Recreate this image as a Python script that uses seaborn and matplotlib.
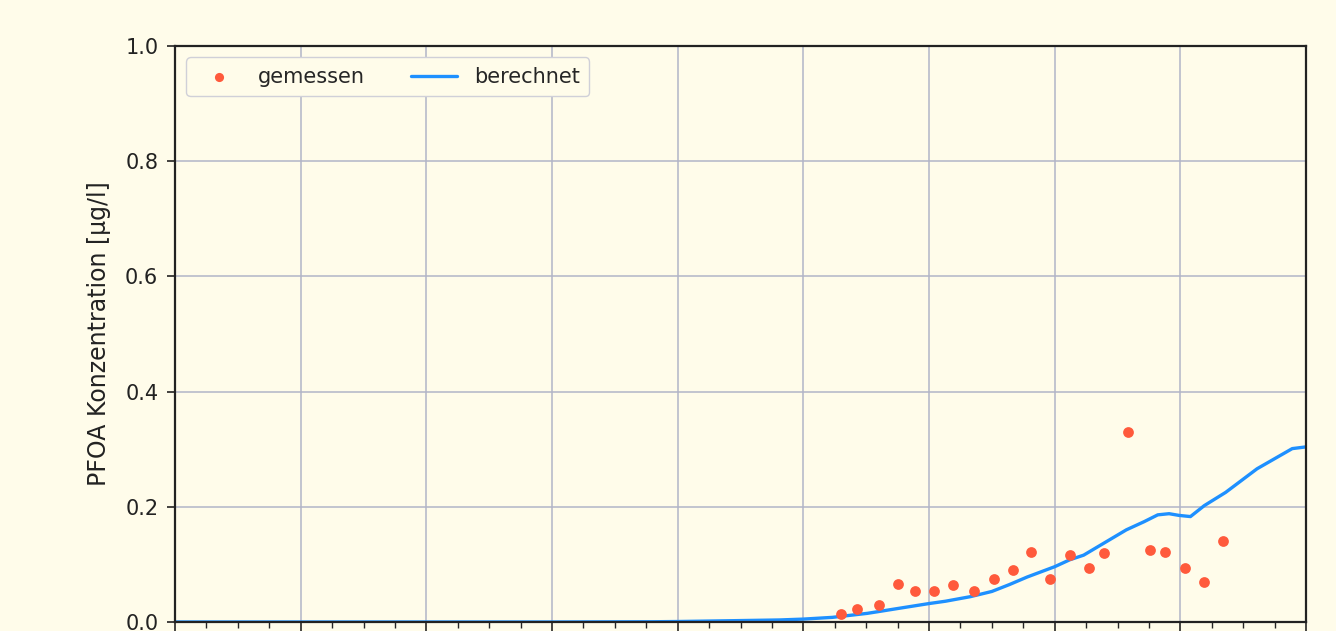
import matplotlib
matplotlib.use("Agg")
import matplotlib.pyplot as plt
import seaborn as sns
import pandas as pd
from matplotlib.ticker import MultipleLocator

# measured values (x in years from start of axis)
meas_x = [5.30, 5.43, 5.60, 5.75, 5.89, 6.04, 6.19, 6.36, 6.52, 6.67, 6.81,
          6.96, 7.12, 7.27, 7.39, 7.58, 7.76, 7.88, 8.04, 8.19, 8.34]
meas_y = [0.014, 0.022, 0.029, 0.066, 0.053, 0.053, 0.064, 0.053, 0.075, 0.091, 0.122,
          0.075, 0.116, 0.094, 0.119, 0.330, 0.125, 0.122, 0.094, 0.069, 0.141]

# computed values
calc_x = [0.0, 1.0, 2.0, 3.0, 3.8, 4.0, 4.46, 4.81, 5.0, 5.23, 5.51, 5.74, 6.0, 6.13,
          6.33, 6.50, 6.64, 6.78, 7.0, 7.12, 7.23, 7.40, 7.57, 7.71, 7.82, 7.91,
          7.99, 8.08, 8.19, 8.36, 8.61, 8.81, 8.89, 9.0]
calc_y = [0.0, 0.0, 0.0, 0.0, 0.0004, 0.0008, 0.0023, 0.0035, 0.005, 0.008, 0.015, 0.023,
          0.032, 0.036, 0.044, 0.053, 0.065, 0.078, 0.096, 0.108, 0.116, 0.138, 0.160,
          0.174, 0.186, 0.188, 0.185, 0.183, 0.202, 0.225, 0.266, 0.291, 0.301, 0.304]

bg = "#fffcea"
sns.set_theme(style="ticks")
plt.rcParams['font.family'] = ['DejaVu Sans']

fig = plt.figure(figsize=(13.36, 6.31), dpi=100, facecolor=bg)
ax = fig.add_axes([0.131, 0.0143, 0.8466, 0.9128])
ax.set_facecolor(bg)

df_m = pd.DataFrame({"x": meas_x, "y": meas_y})
df_c = pd.DataFrame({"x": calc_x, "y": calc_y})

sns.scatterplot(data=df_m, x="x", y="y", ax=ax, color="#ff5a3c", s=60,
                linewidth=0, label="gemessen", zorder=3)
sns.lineplot(data=df_c, x="x", y="y", ax=ax, color="#1e90ff", linewidth=2.4,
             label="berechnet", zorder=2)

ax.set_xlim(0, 9)
ax.set_ylim(0, 1.0)
ax.xaxis.set_major_locator(MultipleLocator(1))
ax.xaxis.set_minor_locator(MultipleLocator(0.25))
ax.yaxis.set_major_locator(MultipleLocator(0.2))
ax.grid(True, which="major", color="#b2b5c8", linewidth=1.1)
ax.set_axisbelow(True)
for s in ax.spines.values():
    s.set_color("#222222")
    s.set_linewidth(1.6)
ax.tick_params(axis="y", labelsize=15, length=6, width=1.2, colors="#222222", pad=6)
ax.tick_params(axis="x", which="major", length=7, width=1.2, labelbottom=False)
ax.tick_params(axis="x", which="minor", length=4, width=1.0, bottom=True)
ax.set_xlabel("")
ax.set_ylabel("PFOA Konzentration [µg/l]", fontsize=17, color="#222222", labelpad=10)

leg = ax.legend(loc="upper left", ncol=2, fontsize=15, frameon=True, fancybox=True,
                borderpad=0.45, columnspacing=2.2, handlelength=2.2, handletextpad=0.8,
                borderaxespad=0.55, markerscale=0.85)
leg.get_frame().set_facecolor(bg)
leg.get_frame().set_edgecolor("#d0d0d8")
leg.get_frame().set_alpha(1.0)

fig.savefig("out.png", dpi=100, facecolor=bg)
